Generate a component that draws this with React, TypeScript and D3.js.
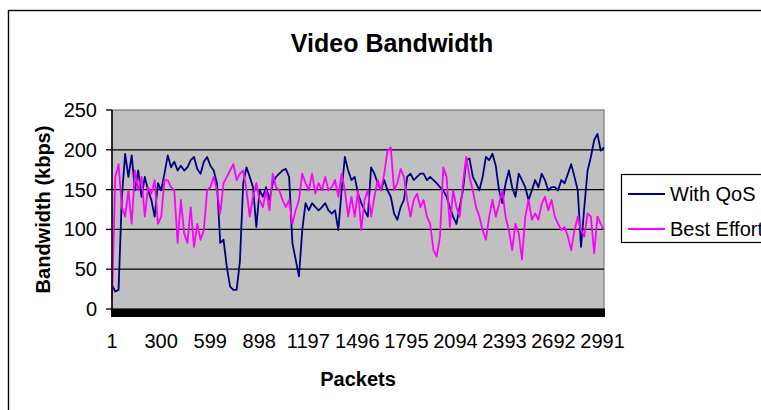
import React, { useEffect, useRef } from "react";
import * as d3 from "d3";

// Bandwidth samples, one every 20 packets (packet 0 .. 3000)
const PACKET_STEP = 20;

const withQoS: number[] = [
  30, 22, 24, 140, 195, 166, 193, 149, 174, 141,
  166, 149, 137, 116, 158, 149, 170, 193, 178, 185,
  174, 180, 174, 178, 187, 191, 176, 170, 185, 191,
  180, 174, 158, 83, 87, 53, 28, 24, 24, 60,
  158, 178, 166, 153, 103, 149, 141, 153, 137, 158,
  166, 170, 174, 176, 166, 83, 62, 41, 99, 133,
  124, 133, 128, 124, 128, 133, 124, 120, 124, 99,
  149, 191, 174, 162, 166, 145, 133, 124, 116, 178,
  170, 158, 149, 162, 149, 141, 120, 112, 128, 137,
  166, 170, 162, 166, 170, 170, 162, 166, 162, 158,
  153, 149, 141, 128, 116, 107, 128, 149, 187, 189,
  166, 158, 149, 166, 191, 187, 195, 180, 149, 133,
  158, 174, 153, 141, 170, 162, 153, 137, 149, 162,
  153, 170, 162, 149, 153, 153, 149, 162, 158, 170,
  182, 166, 149, 78, 128, 174, 191, 212, 220, 199,
  203,
];

const bestEffort: number[] = [
  12, 166, 182, 128, 116, 149, 107, 174, 149, 166,
  116, 153, 145, 162, 107, 116, 162, 162, 153, 149,
  83, 137, 95, 83, 128, 78, 107, 87, 99, 149,
  153, 166, 149, 120, 158, 166, 174, 182, 162, 170,
  174, 149, 116, 141, 158, 137, 128, 149, 124, 170,
  153, 149, 137, 128, 137, 107, 124, 137, 170, 158,
  149, 170, 145, 158, 149, 166, 149, 153, 162, 141,
  170, 149, 116, 141, 116, 149, 99, 137, 149, 116,
  141, 162, 149, 170, 199, 203, 149, 158, 176, 166,
  137, 116, 137, 145, 128, 137, 116, 107, 74, 66,
  91, 178, 166, 103, 149, 128, 116, 158, 191, 166,
  149, 128, 116, 99, 87, 116, 137, 116, 132, 149,
  116, 99, 74, 107, 95, 62, 116, 137, 112, 120,
  112, 132, 141, 124, 137, 116, 107, 99, 103, 91,
  74, 99, 116, 99, 91, 120, 116, 70, 116, 107,
  99,
];

const xTickPackets: number[] = [1, 300, 599, 898, 1197, 1496, 1795, 2094, 2393, 2692, 2991];
const yTickValues: number[] = [0, 50, 100, 150, 200, 250];

const seriesNames: string[] = ["With QoS", "Best Effort"];
const seriesColors: string[] = ["#000080", "#FF00FF"];

const FONT = "'Liberation Sans', Arial, sans-serif";

export default function App() {
  const ref = useRef<SVGSVGElement | null>(null);

  useEffect(() => {
    const svg = d3.select(ref.current);
    svg.selectAll("*").remove();

    const left = 112;
    const right = 604;
    const top = 110;
    const bottom = 309;

    const x = d3.scaleLinear().domain([0, 3000]).range([left, right]);
    const y = d3.scaleLinear().domain([0, 250]).range([bottom, top]);

    // chart area frame
    svg
      .append("rect")
      .attr("x", 8.5)
      .attr("y", 10.5)
      .attr("width", 780)
      .attr("height", 420)
      .attr("fill", "#fff")
      .attr("stroke", "#000")
      .attr("stroke-width", 1.4);

    // title
    svg
      .append("text")
      .attr("x", 392)
      .attr("y", 52)
      .attr("text-anchor", "middle")
      .attr("font-family", FONT)
      .attr("font-weight", "bold")
      .attr("font-size", 25)
      .text("Video Bandwidth");

    // plot area
    svg
      .append("rect")
      .attr("x", left)
      .attr("y", top)
      .attr("width", right - left)
      .attr("height", bottom - top)
      .attr("fill", "#C0C0C0")
      .attr("stroke", "#808080")
      .attr("stroke-width", 1.3);

    // horizontal gridlines
    svg
      .append("g")
      .selectAll("line")
      .data(yTickValues.filter((v) => v > 0 && v < 250))
      .join("line")
      .attr("x1", left)
      .attr("x2", right)
      .attr("y1", (d) => y(d))
      .attr("y2", (d) => y(d))
      .attr("stroke", "#000")
      .attr("stroke-width", 1.3);

    // series lines
    const series = [withQoS, bestEffort];
    series.forEach((vals, si) => {
      const line = d3
        .line<number>()
        .x((_, i) => x(i * PACKET_STEP))
        .y((d) => y(d));
      svg
        .append("path")
        .datum(vals)
        .attr("d", line)
        .attr("fill", "none")
        .attr("stroke", seriesColors[si])
        .attr("stroke-width", 1.8)
        .attr("stroke-linejoin", "round");
    });

    // y axis line and ticks
    svg
      .append("line")
      .attr("x1", left)
      .attr("x2", left)
      .attr("y1", top)
      .attr("y2", bottom)
      .attr("stroke", "#000")
      .attr("stroke-width", 1.5);

    const yAxis = svg.append("g");
    yAxis
      .selectAll("line")
      .data(yTickValues)
      .join("line")
      .attr("x1", left - 6)
      .attr("x2", left)
      .attr("y1", (d) => y(d))
      .attr("y2", (d) => y(d))
      .attr("stroke", "#000")
      .attr("stroke-width", 1.3);
    yAxis
      .selectAll("text")
      .data(yTickValues)
      .join("text")
      .attr("x", 97)
      .attr("y", (d) => y(d) + 7)
      .attr("text-anchor", "end")
      .attr("font-family", FONT)
      .attr("font-size", 20)
      .text((d) => String(d));

    // x axis: dense per-packet tick marks form a solid band
    svg
      .append("rect")
      .attr("x", x(0) - 1)
      .attr("y", bottom - 0.5)
      .attr("width", x(3000) - x(0) + 2)
      .attr("height", 8.5)
      .attr("fill", "#000");

    svg
      .append("g")
      .selectAll("text")
      .data(xTickPackets)
      .join("text")
      .attr("x", (d) => x(d))
      .attr("y", 348)
      .attr("text-anchor", "middle")
      .attr("font-family", FONT)
      .attr("font-size", 20)
      .text((d) => String(d));

    // axis titles
    svg
      .append("text")
      .attr("x", (left + right) / 2)
      .attr("y", 386)
      .attr("text-anchor", "middle")
      .attr("font-family", FONT)
      .attr("font-weight", "bold")
      .attr("font-size", 20)
      .text("Packets");

    svg
      .append("text")
      .attr("transform", `translate(50, ${(top + bottom) / 2}) rotate(-90)`)
      .attr("text-anchor", "middle")
      .attr("font-family", FONT)
      .attr("font-weight", "bold")
      .attr("font-size", 20)
      .text("Bandwidth (kbps)");

    // legend
    const legend = svg.append("g");
    legend
      .append("rect")
      .attr("x", 621.5)
      .attr("y", 174.5)
      .attr("width", 160)
      .attr("height", 68)
      .attr("fill", "#fff")
      .attr("stroke", "#000")
      .attr("stroke-width", 1.2);
    seriesNames.forEach((name, i) => {
      const ly = 194 + i * 35;
      legend
        .append("line")
        .attr("x1", 628)
        .attr("x2", 665)
        .attr("y1", ly)
        .attr("y2", ly)
        .attr("stroke", seriesColors[i])
        .attr("stroke-width", 1.8);
      legend
        .append("text")
        .attr("x", 670)
        .attr("y", ly + 7)
        .attr("font-family", FONT)
        .attr("font-size", 20)
        .text(name);
    });
  }, []);

  return (
    <svg
      ref={ref}
      width={761}
      height={410}
      style={{ position: "absolute", left: 0, top: 0, background: "#fff" }}
    />
  );
}
